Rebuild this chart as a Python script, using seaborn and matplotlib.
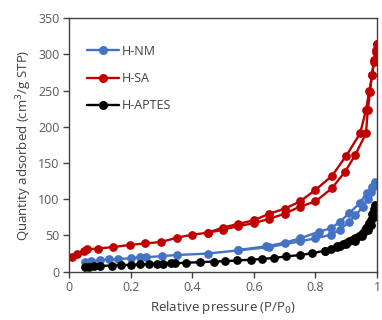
import numpy as np
import pandas as pd
import matplotlib
matplotlib.use("Agg")
import matplotlib.pyplot as plt
import seaborn as sns
from matplotlib.lines import Line2D

# ---- data ----
series = ["H-NM", "H-SA", "H-APTES"]
colors = ["#4472C4", "#C00000", "#000000"]

nm_ads_x = [0.05, 0.07, 0.10, 0.13, 0.16, 0.20, 0.23, 0.25, 0.30, 0.35, 0.45, 0.55, 0.65, 0.75, 0.80, 0.85, 0.88, 0.91, 0.93, 0.955, 0.97, 0.98, 0.99, 0.995]
nm_ads_y = [14, 14.5, 16, 17, 17.5, 18.5, 20, 20, 21.5, 23, 25, 29.5, 34, 42, 46, 51, 58, 69, 78, 90, 100, 110, 118, 123]
nm_des_x = [0.995, 0.983, 0.966, 0.945, 0.91, 0.88, 0.85, 0.81, 0.75, 0.70, 0.64, 0.55]
nm_des_y = [124, 117, 109, 95, 81, 69, 60, 55, 46, 40, 35, 30]

sa_ads_x = [0.009, 0.027, 0.047, 0.057, 0.095, 0.144, 0.198, 0.247, 0.299, 0.35, 0.40, 0.452, 0.50, 0.55, 0.60, 0.65, 0.70, 0.75, 0.80, 0.853, 0.896, 0.929, 0.964, 0.97, 0.977, 0.983, 0.99, 0.997, 1.0]
sa_ads_y = [20, 24, 29, 31, 32, 34, 37, 39, 41, 47, 51, 54, 58, 63, 67, 73, 80, 90, 97, 115, 138, 161, 191, 223, 248, 272, 290, 304, 315]
sa_des_x = [1.0, 0.997, 0.99, 0.985, 0.975, 0.964, 0.945, 0.90, 0.853, 0.80, 0.75, 0.70, 0.65, 0.60, 0.55, 0.50, 0.452]
sa_des_y = [315, 306, 292, 272, 250, 223, 191, 160, 132, 113, 97, 87, 80, 71, 66, 61, 54]

ap_ads_x = [0.05, 0.065, 0.08, 0.10, 0.14, 0.17, 0.20, 0.23, 0.26, 0.285, 0.305, 0.33, 0.345, 0.38, 0.425, 0.47, 0.505, 0.545, 0.59, 0.625, 0.665, 0.705, 0.75, 0.79, 0.83, 0.87, 0.90, 0.93, 0.95, 0.97, 0.98, 0.99, 0.995]
ap_ads_y = [6, 7, 7.5, 8, 8.5, 9, 9.5, 10, 10.5, 11, 11, 11.5, 11.5, 12.5, 13, 14, 14.5, 15.5, 16.5, 17.5, 19, 21, 23, 25.5, 29, 34, 38, 43, 49, 57, 64, 75, 88]
ap_des_x = [0.995, 0.99, 0.985, 0.98, 0.975, 0.97, 0.965, 0.96, 0.955, 0.95, 0.94, 0.93, 0.92, 0.91, 0.90, 0.89, 0.88, 0.87, 0.85, 0.83]
ap_des_y = [92, 86, 79, 72, 67, 63, 60, 57, 54, 52, 49, 46, 44, 42, 40, 38, 36, 35, 32, 29]

xticks = [0, 0.2, 0.4, 0.6, 0.8, 1]
xticklabels = ["0", "0.2", "0.4", "0.6", "0.8", "1"]
yticks = [0, 50, 100, 150, 200, 250, 300, 350]

# ---- plot ----
sns.set_theme(style="white")
plt.rcParams["font.family"] = ["Open Sans", "DejaVu Sans"]

fig = plt.figure(figsize=(3.82, 3.2), dpi=100)
ax = fig.add_axes([0.181, 0.151, 0.806, 0.792])

branches = [
    (nm_ads_x, nm_ads_y, 0), (nm_des_x, nm_des_y, 0),
    (ap_ads_x, ap_ads_y, 2), (ap_des_x, ap_des_y, 2),
    (sa_ads_x, sa_ads_y, 1), (sa_des_x, sa_des_y, 1),
]
for bx, by, ci in branches:
    df = pd.DataFrame({"x": bx, "y": by})
    sns.lineplot(data=df, x="x", y="y", sort=False, color=colors[ci], marker="o",
                 markersize=6.3, linewidth=1.7, markeredgewidth=0, ax=ax, legend=False)

ax.set_xlim(0, 1)
ax.set_ylim(0, 350)
ax.set_xticks(xticks)
ax.set_xticklabels(xticklabels)
ax.set_yticks(yticks)
ax.tick_params(axis="both", direction="out", length=4, width=1, colors="#404040",
               labelsize=9, labelcolor="#595959", bottom=True, left=True, pad=3)
for s in ax.spines.values():
    s.set_color("#404040")
    s.set_linewidth(1)

ax.set_xlabel("Relative pressure (P/P$_0$)", fontsize=9.5, color="#404040", labelpad=3)
ax.set_ylabel("Quantity adsorbed (cm$^3$/g STP)", fontsize=9.5, color="#404040", labelpad=3)

handles = [Line2D([0], [0], color=c, marker="o", markersize=6.5, linewidth=1.7, markeredgewidth=0) for c in colors]
leg = ax.legend(handles, series, loc="upper left", bbox_to_anchor=(0.02, 0.94), frameon=False,
                fontsize=9, handlelength=2.6, handletextpad=0.2, labelspacing=1.15)
for t in leg.get_texts():
    t.set_color("#404040")

fig.savefig("out.png", dpi=100)
